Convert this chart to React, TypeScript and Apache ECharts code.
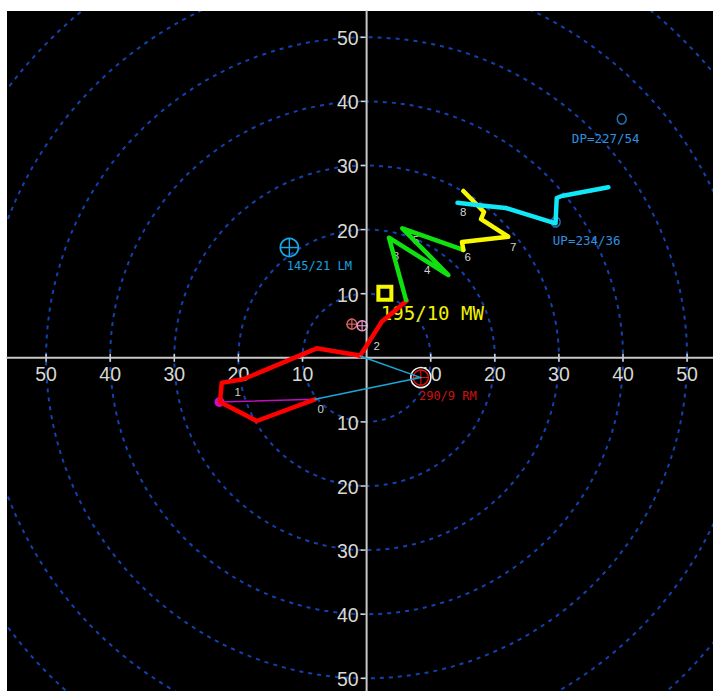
import React, { useEffect, useRef } from "react";
import * as echarts from "echarts";

// view extents (knots)
const X_MIN = -56.1;
const X_MAX = 54.04;
const Y_MIN = -51.98;
const Y_MAX = 54.1;

const RING_RADII = [10, 20, 30, 40, 50, 60, 70, 80];
const AXIS_TICKS = [-50, -40, -30, -20, -10, 10, 20, 30, 40, 50];

// hodograph segments [u, v] in knots
const RED_0_3KM = [
  [-8.05, -6.47], [-17.14, -9.86], [-22.87, -6.91], [-22.6, -3.88], [-19.24, -3.35],
  [-7.78, 1.48], [-1.54, 0.44], [-1.03, 0.28], [2.36, 5.63], [6.26, 8.91],
];
const GREEN_3_6KM = [
  [6.15, 9.02], [3.49, 18.74], [12.75, 12.92], [5.57, 20.2], [15.09, 16.82],
];
const YELLOW_6_9KM = [
  [15.09, 16.82], [14.88, 18.06], [22.1, 18.89], [17.85, 21.65], [18.32, 22.75], [15.09, 26.02],
];
const CYAN_9_12KM = [
  [14.18, 24.2], [17.18, 23.84], [21.72, 23.37], [24.45, 22.54], [29.47, 20.98],
  [29.66, 24.93], [30.44, 25.24], [37.71, 26.6],
];

const HEIGHT_LABELS = ["0", "1", "2", "3", "4", "5", "6", "7", "8"];
const HEIGHT_POINTS = [
  [-8.1, -6.3], [-21.05, -3.62], [0.64, 3.51], [3.65, 17.6], [8.53, 15.46],
  [6.77, 20.05], [14.84, 17.44], [21.95, 19.0], [14.15, 24.46],
];

const LM_POINT = [-12.05, 17.2];
const LM_TEXT = "145/21 LM";
const RM_POINT = [8.46, -3.08];
const RM_TEXT = "290/9 RM";
const MW_POINT = [2.85, 10.05];
const MW_TEXT = "195/10 MW";
const UP_POINT = [29.5, 21.2];
const UP_TEXT = "UP=234/36";
const DP_POINT = [39.8, 37.25];
const DP_TEXT = "DP=227/54";
const SFC_POINT = [-22.95, -6.9];
const ORIGIN_POINT = [-1.03, 0.28];
const STORM_A = [-2.3, 5.25];
const STORM_B = [-0.7, 5.0];

const MONO = "DejaVu Sans Mono";

function textSeries(point: number[], text: string, color: string, font: string, dx: number, dy: number, align = "center") {
  return {
    type: "custom",
    data: [point],
    encode: { x: 0, y: 1 },
    silent: true,
    renderItem: (_p: any, api: any) => {
      const c = api.coord([api.value(0), api.value(1)]);
      return {
        type: "text",
        x: c[0] + dx,
        y: c[1] + dy,
        style: { text, fill: color, font, align, verticalAlign: "middle" },
      };
    },
  };
}

function crossSeries(point: number[], r: number, color: string, lw: number, extra?: any) {
  return {
    type: "custom",
    data: [point],
    encode: { x: 0, y: 1 },
    silent: true,
    renderItem: (_p: any, api: any) => {
      const c = api.coord([api.value(0), api.value(1)]);
      const children: any[] = [];
      if (extra) children.push(...extra(c));
      children.push(
        { type: "circle", shape: { cx: c[0], cy: c[1], r }, style: { fill: "none", stroke: color, lineWidth: lw } },
        { type: "line", shape: { x1: c[0] - r, y1: c[1], x2: c[0] + r, y2: c[1] }, style: { stroke: color, lineWidth: lw * 0.8 } },
        { type: "line", shape: { x1: c[0], y1: c[1] - r, x2: c[0], y2: c[1] + r }, style: { stroke: color, lineWidth: lw * 0.8 } },
      );
      return { type: "group", children };
    },
  };
}

function lineSeries(data: number[][], color: string, width: number) {
  return {
    type: "line",
    data,
    symbol: "none",
    silent: true,
    lineStyle: { color, width, cap: "round", join: "round" },
  };
}

export default function App() {
  const ref = useRef<HTMLDivElement>(null);
  useEffect(() => {
    if (!ref.current) return;
    const chart = echarts.init(ref.current, undefined, { renderer: "svg" });
    const option: any = {
      animation: false,
      backgroundColor: "#ffffff",
      grid: { left: 7, top: 11, right: 0, bottom: 0, show: true, backgroundColor: "#000000", borderWidth: 0 },
      xAxis: { type: "value", min: X_MIN, max: X_MAX, show: false },
      yAxis: { type: "value", min: Y_MIN, max: Y_MAX, show: false },
      series: [
        {
          type: "custom",
          data: RING_RADII.map((r) => [0, 0, r]),
          encode: { x: 0, y: 1 },
          clip: true,
          silent: true,
          renderItem: (_p: any, api: any) => {
            const c = api.coord([0, 0]);
            const r = api.size([api.value(2), 0])[0];
            return {
              type: "circle",
              shape: { cx: c[0], cy: c[1], r },
              style: { fill: "none", stroke: "#1242b0", lineWidth: 2, lineDash: [4, 5] },
            };
          },
        },
        lineSeries([[X_MIN, 0], [X_MAX, 0]], "#c8c8c8", 2),
        lineSeries([[0, Y_MIN], [0, Y_MAX]], "#c8c8c8", 2),
        {
          type: "custom",
          data: AXIS_TICKS.map((t) => [0, t]),
          encode: { x: 0, y: 1 },
          silent: true,
          renderItem: (_p: any, api: any) => {
            const t = api.value(1);
            const c = api.coord([0, t]);
            return {
              type: "group",
              children: [
                { type: "line", shape: { x1: c[0] - 6, y1: c[1], x2: c[0] - 1, y2: c[1] }, style: { stroke: "#d8d8d0", lineWidth: 1.5 } },
                {
                  type: "text", x: c[0] - 8, y: c[1] + 1,
                  style: { text: String(Math.abs(t)), fill: "#d8d8d0", font: "19.5px 'Liberation Sans'", align: "right", verticalAlign: "middle" },
                },
              ],
            };
          },
        },
        {
          type: "custom",
          data: AXIS_TICKS.map((t) => [t, 0]),
          encode: { x: 0, y: 1 },
          silent: true,
          renderItem: (_p: any, api: any) => {
            const t = api.value(0);
            const c = api.coord([t, 0]);
            return {
              type: "group",
              children: [
                { type: "line", shape: { x1: c[0], y1: c[1] - 4, x2: c[0], y2: c[1] + 4 }, style: { stroke: "#d8d8d0", lineWidth: 1.5 } },
                {
                  type: "text", x: c[0], y: c[1] + 16.5,
                  style: { text: String(Math.abs(t)), fill: "#d8d8d0", font: "19.5px 'Liberation Sans'", align: "center", verticalAlign: "middle" },
                },
              ],
            };
          },
        },
        lineSeries([SFC_POINT, RED_0_3KM[0]], "#c010c0", 1.5),
        lineSeries(RED_0_3KM, "#ff0000", 4.5),
        lineSeries(GREEN_3_6KM, "#10e010", 4.5),
        lineSeries(YELLOW_6_9KM, "#f8f800", 4.5),
        lineSeries(CYAN_9_12KM, "#10e8f8", 4.5),
        {
          type: "scatter",
          data: [SFC_POINT],
          symbol: "circle",
          symbolSize: 10,
          silent: true,
          itemStyle: { color: "#ff10ff" },
        },
        {
          type: "custom",
          data: HEIGHT_POINTS.map((p, i) => [p[0], p[1], i]),
          encode: { x: 0, y: 1 },
          silent: true,
          renderItem: (_p: any, api: any) => {
            const c = api.coord([api.value(0), api.value(1)]);
            return {
              type: "text", x: c[0] + 6, y: c[1] + 11,
              style: { text: HEIGHT_LABELS[api.value(2)], fill: "#d0d0d0", font: "11.5px 'Liberation Sans'", align: "center", verticalAlign: "middle" },
            };
          },
        },
        crossSeries(STORM_A, 5, "#e06060", 1.5),
        crossSeries(STORM_B, 5, "#e890c8", 1.5),
        crossSeries(LM_POINT, 9, "#18a8e8", 1.8),
        crossSeries(RM_POINT, 7.5, "#e01010", 1.4, (c: number[]) => [
          { type: "circle", shape: { cx: c[0], cy: c[1], r: 10 }, style: { fill: "#000000", stroke: "#f0f0f0", lineWidth: 1.6 } },
        ]),
        lineSeries([ORIGIN_POINT, RM_POINT], "#18a8d8", 1.4),
        lineSeries([RED_0_3KM[0], RM_POINT], "#18a8d8", 1.4),
        {
          type: "custom",
          data: [MW_POINT],
          encode: { x: 0, y: 1 },
          silent: true,
          renderItem: (_p: any, api: any) => {
            const c = api.coord([api.value(0), api.value(1)]);
            return {
              type: "rect",
              shape: { x: c[0] - 6.5, y: c[1] - 6.5, width: 13, height: 13 },
              style: { fill: "#000000", stroke: "#f8f800", lineWidth: 4 },
            };
          },
        },
        {
          type: "scatter",
          data: [UP_POINT, DP_POINT],
          symbol: "circle",
          symbolSize: [9, 10],
          silent: true,
          itemStyle: { color: "transparent", borderColor: "#3090e0", borderWidth: 1.5 },
        },
        textSeries(LM_POINT, LM_TEXT, "#18a0e0", `12px '${MONO}'`, 30, 18.5),
        textSeries(RM_POINT, RM_TEXT, "#d01010", `12px '${MONO}'`, 27, 18),
        textSeries(UP_POINT, UP_TEXT, "#3090e0", `12.5px '${MONO}'`, 31, 18.5),
        textSeries(DP_POINT, DP_TEXT, "#3090e0", `12.5px '${MONO}'`, -16, 19),
        textSeries(MW_POINT, MW_TEXT, "#f0f000", `19px '${MONO}'`, -4, 20, "left"),
      ],
    };
    chart.setOption(option);
    return () => chart.dispose();
  }, []);
  return (
    <div
      ref={ref}
      style={{ position: "absolute", left: 0, top: 0, width: 713, height: 691 }}
    />
  );
}
